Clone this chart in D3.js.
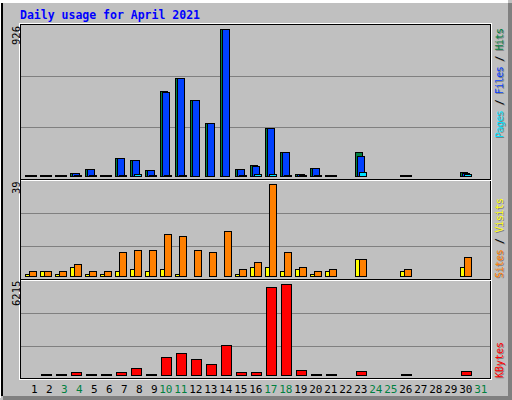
<!DOCTYPE html>
<html><head><meta charset="utf-8">
<script src="https://cdn.jsdelivr.net/npm/d3@7"></script>
<style>html,body{margin:0;padding:0;background:#fff;} svg{display:block}</style>
</head><body>
<script>
// ---- data ----
const title = "Daily usage for April 2021";
const days = d3.range(1, 32);
const weekendDays = [3, 4, 10, 11, 17, 18, 24, 25, 31];
const hits   = [8, 8, 8, 20, 45, 8, 115, 101, 38, 535, 618, 479, 334, 926, 44, 70, 303, 152, 15, 51, 8, 0, 151, 0, 0, 8, 0, 0, 0, 25, 0];
const files  = [8, 8, 8, 17, 44, 8, 113, 99, 37, 528, 615, 477, 333, 924, 43, 64, 301, 150, 13, 50, 8, 0, 126, 0, 0, 8, 0, 0, 0, 22, 0];
const pages  = [7, 7, 7, 7, 7, 7, 7, 13, 7, 8, 8, 0, 0, 0, 7, 13, 13, 7, 7, 7, 7, 0, 25, 0, 0, 7, 0, 0, 0, 13, 0];
const visits = [1, 2, 1, 4, 1, 1, 2, 3, 2, 3, 1, 0, 0, 0, 1, 4, 4, 2, 3, 1, 2, 0, 7, 0, 0, 2, 0, 0, 0, 4, 0];
const sites  = [2, 2, 2, 5, 2, 2, 10, 11, 11, 18, 17, 11, 10, 19, 3, 6, 39, 10, 4, 2, 3, 0, 7, 0, 0, 3, 0, 0, 0, 8, 0];
const kbytes = [0, 60, 60, 200, 55, 50, 200, 460, 40, 1216, 1486, 1081, 743, 2027, 200, 200, 5990, 6215, 338, 50, 50, 0, 270, 0, 0, 45, 0, 0, 0, 270, 0];

// ---- colours ----
const C = {grey:"#c0c0c0", dk:"#808080", hit:"#008040", file:"#0040ff", page:"#00e0ff",
           visit:"#ffff00", site:"#ff8000", kb:"#ff0000", title:"#0000ff"};
const MONO = "'DejaVu Sans Mono', 'Liberation Mono', monospace";

const svg = d3.select("body").append("svg").attr("width", 512).attr("height", 400)
  .attr("shape-rendering", "crispEdges");

// background and 3D frame
svg.append("rect").attr("x",0).attr("y",0).attr("width",512).attr("height",400).attr("fill",C.grey);
svg.append("rect").attr("x",0).attr("y",0).attr("width",508).attr("height",3).attr("fill","#fff");
svg.append("rect").attr("x",0).attr("y",0).attr("width",1).attr("height",398).attr("fill","#fff");
svg.append("rect").attr("x",1).attr("y",3).attr("width",2).attr("height",393).attr("fill","#000");
svg.append("rect").attr("x",3).attr("y",396).attr("width",509).attr("height",4).attr("fill",C.dk);
svg.append("rect").attr("x",508).attr("y",3).attr("width",4).attr("height",397).attr("fill",C.dk);

// inner box
function hline(y, x1, x2, col){ svg.append("line").attr("x1",x1).attr("x2",x2+1).attr("y1",y+0.5).attr("y2",y+0.5).attr("stroke",col); }
function vline(x, y1, y2, col){ svg.append("line").attr("x1",x+0.5).attr("x2",x+0.5).attr("y1",y1).attr("y2",y2+1).attr("stroke",col); }
svg.append("rect").attr("x",19.5).attr("y",23.5).attr("width",472).attr("height",356).attr("fill","none").attr("stroke","#fff");
svg.append("rect").attr("x",20.5).attr("y",24.5).attr("width",470).attr("height",354).attr("fill","none").attr("stroke","#000");

// title
svg.append("text").attr("x",20).attr("y",19).attr("font-family",MONO).attr("font-weight","bold")
  .attr("font-size","11.5px").attr("fill",C.title).text(title);

// scales
const x = d3.scaleLinear().domain([1, 31]).range([25, 475]);
const sections = [
  {base:176, top:29,  max:d3.max(hits),   grid:[76,127]},
  {base:276, top:184, max:d3.max(sites),  grid:[213,246]},
  {base:375, top:284, max:d3.max(kbytes), grid:[313,346]}
];
sections.forEach(s => { s.y = d3.scaleLinear().domain([0, s.max]).range([s.base, s.top]); });

// grid lines
sections.forEach(s => s.grid.forEach(g => hline(g, 21, 489, C.dk)));

// separators
hline(179, 21, 490, "#000"); hline(180, 21, 490, "#fff");
hline(279, 21, 490, "#000"); hline(280, 21, 490, "#fff");

// bars
function bars(data, sec, off, w, color){
  const g = svg.append("g");
  days.forEach((d, i) => {
    const v = data[i];
    if (!(v > 0)) return;
    const left = Math.round(x(d)) + off;
    const top = Math.round(sec.y(v));
    const bottom = sec.base;
    if (bottom - top >= 1) {
      g.append("rect").attr("x", left + 0.5).attr("y", top + 0.5)
        .attr("width", w).attr("height", bottom - top)
        .attr("fill", color).attr("stroke", "#000");
    } else {
      g.append("line").attr("x1", left).attr("x2", left + w + 1)
        .attr("y1", bottom + 0.5).attr("y2", bottom + 0.5).attr("stroke", "#000");
    }
  });
}
bars(hits,   sections[0], 0, 7, C.hit);
bars(files,  sections[0], 2, 7, C.file);
bars(pages,  sections[0], 4, 7, C.page);
bars(visits, sections[1], 0, 7, C.visit);
bars(sites,  sections[1], 4, 7, C.site);
bars(kbytes, sections[2], 1, 10, C.kb);

// x labels
svg.append("g").selectAll("text").data(days).join("text")
  .attr("x", d => x(d) + 12.5).attr("y", 393)
  .attr("text-anchor", "end").attr("font-family", MONO).attr("font-size", "11px")
  .attr("fill", d => weekendDays.includes(d) ? C.hit : "#000")
  .text(d => String(d));

// max value labels (rotated)
const maxPos = [45, 194, 306];
sections.forEach((s, i) => {
  svg.append("text").attr("transform", `translate(19.5,${maxPos[i]}) rotate(-90)`)
    .attr("font-family", MONO).attr("font-size", "10.5px").attr("fill", "#000")
    .text(String(s.max));
});

// legends (rotated with shadow)
const legends = [
  {y:138, len:110, parts:[["Pages",C.page],[" / ","#000"],["Files",C.file],[" / ","#000"],["Hits",C.hit]]},
  {y:278, len:80,  parts:[["Sites",C.site],[" / ","#000"],["Visits",C.visit]]},
  {y:378, len:36,  parts:[["KBytes",C.kb]]}
];
legends.forEach(L => {
  [[1, C.dk, true],[0, null, false]].forEach(([o, col, sh]) => {
    const t = svg.append("text").attr("transform", `translate(${503 + o},${L.y + o}) rotate(-90)`)
      .attr("font-family", MONO).attr("font-size", "10px")
      .attr("textLength", L.len).attr("lengthAdjust", "spacing");
    L.parts.forEach(([s, c]) => {
      t.append("tspan").attr("fill", sh ? (c === "#000" ? C.dk : C.dk) : c).text(s);
    });
  });
});
</script>
</body></html>
